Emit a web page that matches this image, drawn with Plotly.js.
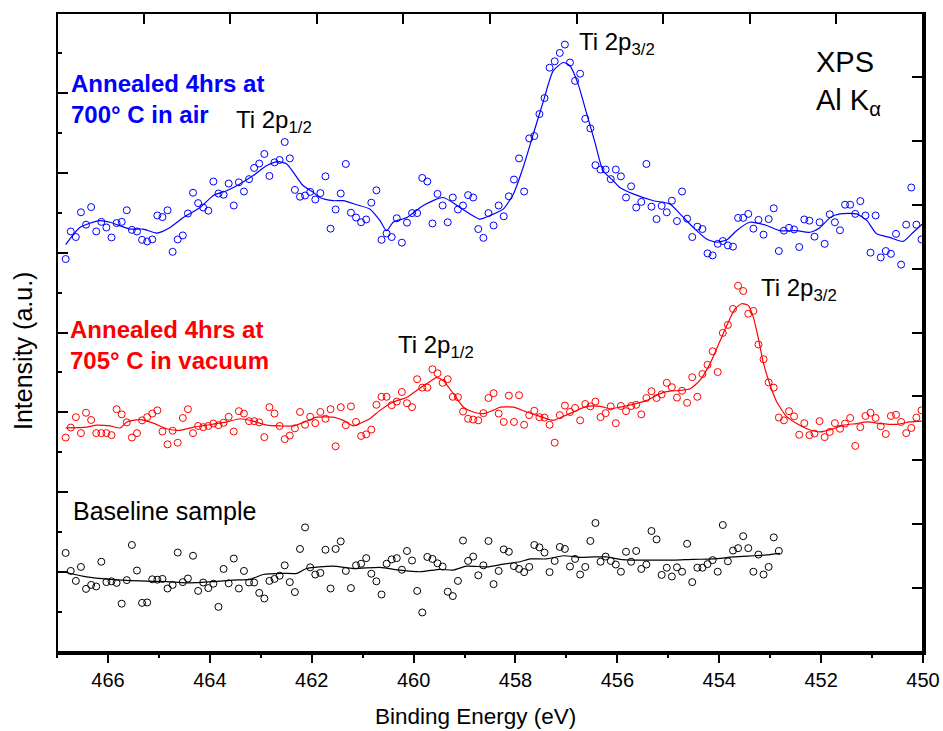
<!DOCTYPE html>
<html>
<head>
<meta charset="utf-8">
<script src="https://cdn.plot.ly/plotly-3.0.1.min.js"></script>
<style>html,body{margin:0;padding:0;background:#fff;overflow:hidden}
#wrap{position:relative;width:943px;height:731px}
#chart{width:943px;height:731px}
#frame{position:absolute;left:56px;top:12px;width:866px;height:639px;border:2px solid #000;box-sizing:content-box;pointer-events:none}</style>
</head>
<body>
<div id="wrap"><div id="chart"></div><div id="frame"></div></div>
<script>
// Binding energy grid (eV) shared by the three spectra
const energy = [
466.83,466.73,466.63,466.53,466.43,466.33,466.23,466.13,466.03,465.93,
465.83,465.73,465.63,465.53,465.43,465.33,465.23,465.13,465.03,464.93,
464.83,464.73,464.63,464.53,464.43,464.33,464.23,464.13,464.03,463.93,
463.83,463.73,463.63,463.53,463.43,463.33,463.23,463.13,463.03,462.93,
462.83,462.73,462.63,462.53,462.43,462.33,462.23,462.13,462.03,461.93,
461.83,461.73,461.63,461.53,461.43,461.33,461.23,461.13,461.03,460.93,
460.83,460.73,460.63,460.53,460.43,460.33,460.23,460.13,460.03,459.93,
459.83,459.73,459.63,459.53,459.43,459.33,459.23,459.13,459.03,458.93,
458.83,458.73,458.63,458.53,458.43,458.33,458.23,458.13,458.03,457.93,
457.83,457.73,457.63,457.53,457.43,457.33,457.23,457.13,457.03,456.93,
456.83,456.73,456.63,456.53,456.43,456.33,456.23,456.13,456.03,455.93,
455.83,455.73,455.63,455.53,455.43,455.33,455.23,455.13,455.03,454.93,
454.83,454.73,454.63,454.53,454.43,454.33,454.23,454.13,454.03,453.93,
453.83,453.73,453.63,453.53,453.43,453.33,453.23,453.13,453.03,452.93,
452.83,452.73,452.63,452.53,452.43,452.33,452.23,452.13,452.03,451.93,
451.83,451.73,451.63,451.53,451.43,451.33,451.23,451.13,451.03,450.93,
450.83,450.73,450.63,450.53,450.43,450.33,450.23,450.13,450.03];

const airData = [
9.84,10.53,10.39,11.01,10.70,11.14,10.53,10.77,10.63,10.38,
10.74,10.77,11.06,10.57,10.53,10.32,10.28,10.33,10.93,10.89,
11.06,10.02,10.33,10.43,10.98,11.50,11.24,11.13,11.05,11.78,
11.48,11.45,11.73,11.18,11.76,11.53,11.84,12.12,12.23,12.47,
11.92,12.26,12.32,12.77,12.36,11.57,11.40,11.43,11.52,11.33,
11.49,11.91,10.60,11.08,11.48,12.22,11.00,10.88,10.76,10.83,
11.25,11.56,10.32,10.48,10.39,10.86,10.25,10.75,10.99,10.99,
11.87,11.78,10.73,11.47,11.18,10.76,11.38,11.08,11.18,11.44,
11.38,10.59,10.37,10.99,10.68,11.18,10.91,11.41,11.83,12.36,
11.53,12.86,12.92,13.47,13.87,14.63,14.79,15.00,15.21,14.76,
14.30,14.48,13.35,13.11,12.19,12.08,12.08,11.84,12.08,11.91,
11.38,11.66,11.13,11.27,12.22,11.15,10.84,11.17,11.01,11.30,
10.79,11.53,10.85,10.39,10.65,10.59,9.98,9.93,10.22,10.29,
10.18,10.15,10.87,10.87,10.97,10.60,10.82,10.45,10.84,11.11,
10.04,10.55,10.62,10.58,10.14,10.83,10.80,10.40,10.76,10.22,
10.96,10.76,10.56,11.20,11.20,10.97,11.29,10.93,10.00,10.93,
9.88,10.04,9.97,10.47,9.70,10.70,11.63,10.70,10.33];

const vacData = [
5.37,5.62,5.88,5.48,5.99,5.81,5.48,5.48,5.48,5.43,
6.08,5.95,5.75,5.37,5.48,5.80,5.88,5.97,6.05,5.52,
5.20,5.54,5.24,5.86,6.08,5.48,5.66,5.63,5.66,5.72,
5.68,5.74,5.89,5.52,6.03,5.97,5.78,5.78,5.75,5.38,
6.13,5.97,5.66,5.33,5.42,5.60,6.01,5.69,5.89,5.73,
6.01,5.84,6.08,5.15,6.13,5.68,6.15,5.76,5.41,5.45,
5.57,6.19,6.39,6.39,6.18,6.27,6.51,6.23,6.13,6.83,
6.62,6.62,7.08,6.98,6.74,6.83,6.39,6.38,6.02,5.84,
5.82,5.80,5.98,6.36,6.48,5.97,5.76,6.42,5.76,6.43,
5.69,5.93,6.04,5.88,5.87,5.69,5.24,5.93,6.17,6.01,
6.11,5.80,6.21,6.15,6.27,5.88,5.98,6.15,5.73,6.16,
6.03,6.16,6.19,5.95,6.36,6.53,6.36,6.45,6.74,6.63,
6.37,6.54,6.24,6.88,6.39,6.96,7.19,7.53,7.01,7.99,
8.19,8.59,9.17,9.04,8.47,8.54,7.70,7.33,6.75,6.62,
5.87,5.80,6.03,5.90,5.44,5.73,5.43,5.47,5.78,5.38,
5.51,5.73,5.59,5.72,5.86,5.16,5.63,5.91,5.99,5.86,
5.65,5.46,5.91,5.94,5.76,5.48,5.61,5.87,6.05];

const baseData = [
2.48,2.03,1.78,2.13,1.58,1.68,1.64,2.26,1.75,1.77,
1.73,1.21,1.80,2.68,2.04,1.23,1.24,1.82,1.81,1.83,
1.59,1.68,2.49,1.75,1.84,2.41,1.53,1.74,1.60,1.71,
1.13,2.08,1.72,2.34,1.59,2.03,1.74,1.74,1.48,1.34,
1.78,1.83,1.91,2.17,1.75,1.50,2.58,3.12,2.12,1.94,
1.98,2.56,1.59,2.58,2.77,2.03,1.60,2.17,2.21,2.35,
1.96,1.77,1.44,2.21,2.32,2.35,2.06,2.53,2.29,1.53,
0.99,2.38,2.33,2.22,2.14,1.51,1.40,1.78,2.79,2.28,
2.39,1.92,2.17,2.78,1.70,2.03,2.57,2.51,2.15,2.08,
2.00,2.13,2.68,2.62,2.49,2.00,2.28,2.63,2.58,2.14,
2.33,1.94,2.13,2.78,3.23,2.26,2.39,2.28,2.19,2.01,
2.51,2.26,2.53,2.08,2.19,3.03,2.82,1.93,2.11,1.89,
2.12,2.01,2.71,1.75,2.11,2.11,2.20,2.30,2.01,3.18,
2.27,2.54,2.60,2.90,2.60,2.01,2.44,1.94,2.13,2.87,2.53];

// Smoothed curves
const airFitE = [466.83,466.55,466.16,465.96,465.57,465.31,465.04,464.78,464.52,464.19,463.93,463.67,463.41,463.15,462.88,462.66,462.49,462.36,462.17,461.97,461.84,461.58,461.38,461.12,460.86,460.66,460.53,460.40,460.13,459.81,459.42,459.09,458.70,458.50,458.24,458.04,457.85,457.65,457.45,457.26,457.06,456.93,456.77,456.60,456.44,456.28,456.08,455.95,455.69,455.29,454.97,454.77,454.51,454.25,454.05,453.85,453.66,453.40,453.07,452.81,452.48,452.22,452.02,451.82,451.63,451.30,451.10,450.91,450.65,450.39,450.19,450.00];
const airFitI = [10.20,10.63,10.80,10.76,10.59,10.59,10.49,10.63,10.88,11.13,11.43,11.55,11.72,11.93,12.18,12.28,12.22,12.01,11.68,11.51,11.38,11.30,11.30,11.20,11.09,10.80,10.55,10.76,10.88,11.18,11.38,11.13,10.84,10.93,11.09,11.47,12.13,12.97,13.80,14.55,14.76,14.68,14.22,13.47,12.76,12.05,11.80,11.63,11.47,11.30,11.22,10.97,10.63,10.34,10.26,10.32,10.55,10.76,10.68,10.55,10.55,10.51,10.63,10.88,10.97,10.97,10.80,10.47,10.38,10.28,10.51,10.73];

const vacFitE = [466.83,466.42,466.22,465.96,465.76,465.63,465.37,465.11,464.85,464.59,464.32,464.06,463.67,463.41,463.15,462.88,462.62,462.36,462.10,461.90,461.58,461.38,461.18,460.99,460.86,460.66,460.40,460.13,459.94,459.74,459.55,459.42,459.22,459.02,458.83,458.63,458.44,458.30,458.04,457.78,457.52,457.26,457.06,456.86,456.60,456.34,456.14,455.95,455.69,455.42,455.16,454.97,454.77,454.57,454.38,454.18,453.98,453.85,453.69,453.56,453.43,453.33,453.23,453.13,453.00,452.87,452.68,452.48,452.28,452.02,451.76,451.56,451.30,451.10,450.84,450.52,450.26,450.02];
const vacFitI = [5.61,5.63,5.68,5.66,5.61,5.76,5.82,5.73,5.59,5.55,5.63,5.68,5.76,5.84,5.78,5.68,5.66,5.66,5.78,5.88,5.88,5.80,5.66,5.76,5.84,6.05,6.26,6.38,6.55,6.72,6.87,6.80,6.47,6.13,6.01,5.97,6.05,6.13,6.13,6.01,5.90,5.80,5.90,6.01,6.15,6.15,6.09,6.13,6.20,6.30,6.47,6.53,6.55,6.59,6.80,7.22,7.80,8.18,8.59,8.72,8.68,8.38,7.84,7.22,6.68,6.26,5.90,5.72,5.59,5.51,5.59,5.68,5.72,5.76,5.72,5.70,5.76,5.78];

const baseFitE = [466.81,466.42,465.96,465.37,464.85,464.45,463.93,463.54,463.21,462.95,462.56,462.29,462.10,461.58,461.18,460.66,460.27,459.87,459.48,459.22,458.96,458.56,458.24,457.91,457.71,457.39,457.06,456.73,456.47,456.21,455.95,455.62,455.29,454.90,454.51,454.12,453.72,453.33,453.07,452.81];
const baseFitI = [1.99,1.88,1.82,1.78,1.76,1.73,1.76,1.80,1.82,1.94,1.97,1.97,2.09,2.15,2.09,2.12,2.05,2.01,2.07,2.05,2.15,2.13,2.20,2.26,2.33,2.33,2.41,2.37,2.38,2.38,2.32,2.30,2.30,2.30,2.32,2.33,2.38,2.41,2.43,2.47];

const FONT = "Liberation Sans, Arial, sans-serif";

function pts(x, y, color) {
  return {x: x, y: y, type: 'scatter', mode: 'markers', hoverinfo: 'skip',
    marker: {symbol: 'circle-open', size: 7, color: color, line: {width: 1, color: color}}};
}
function fit(x, y, color) {
  return {x: x, y: y, type: 'scatter', mode: 'lines', hoverinfo: 'skip',
    line: {color: color, width: 1.2, shape: 'spline', smoothing: 0.6}};
}

const traces = [
  pts(energy, airData, '#0000ff'), fit(airFitE, airFitI, '#0000ff'),
  pts(energy, vacData, '#ff0000'), fit(vacFitE, vacFitI, '#ff0000'),
  pts(energy.slice(0, baseData.length), baseData, '#000000'), fit(baseFitE, baseFitI, '#000000'),
  // empty trace so the top / right tick axes are created
  {x: [], y: [], xaxis: 'x2', yaxis: 'y2', type: 'scatter', mode: 'markers', hoverinfo: 'skip'}
];

function ann(text, x, y, size, color, bold) {
  return {text: bold ? '<b>' + text + '</b>' : text, x: x, y: y, xref: 'paper', yref: 'paper',
    xanchor: 'left', yanchor: 'middle', showarrow: false, align: 'left',
    font: {family: FONT, size: size, color: color}};
}

const tickStyle = {tickwidth: 2, tickcolor: '#000', showline: true, linewidth: 2, linecolor: '#000',
  showgrid: false, zeroline: false};

const layout = {
  width: 943, height: 731,
  margin: {l: 57, r: 20, t: 13, b: 79},
  showlegend: false,
  paper_bgcolor: 'rgba(0,0,0,0)', plot_bgcolor: 'rgba(0,0,0,0)',
  xaxis: Object.assign({
    anchor: 'free', position: 0,
    range: [467, 450], autorange: false, tickmode: 'linear', tick0: 450, dtick: 2,
    ticks: 'outside', ticklen: 10,
    minor: {dtick: 1, tick0: 450, ticks: 'outside', ticklen: 5, tickwidth: 2, tickcolor: '#000'},
    tickfont: {family: FONT, size: 20, color: '#000'}
  }, tickStyle),
  xaxis2: Object.assign({
    overlaying: 'x', side: 'top', anchor: 'free', position: 1, range: [0, 10], autorange: false,
    tickmode: 'linear', tick0: 0, dtick: 1, ticks: 'inside', ticklen: 10, showticklabels: false
  }, tickStyle),
  yaxis: Object.assign({
    anchor: 'free', position: 0,
    range: [0, 16], autorange: false, tickmode: 'linear', tick0: 0, dtick: 2,
    ticks: 'inside', ticklen: 10,
    minor: {dtick: 1, tick0: 0, ticks: 'inside', ticklen: 4, tickwidth: 2, tickcolor: '#000'},
    showticklabels: false
  }, tickStyle),
  yaxis2: Object.assign({
    overlaying: 'y', side: 'right', anchor: 'free', position: 1, range: [0, 10], autorange: false,
    tickmode: 'linear', tick0: 0, dtick: 1, ticks: 'inside', ticklen: 10, showticklabels: false
  }, tickStyle),
  shapes: [{type: 'rect', xref: 'paper', yref: 'paper', x0: 0, x1: 1, y0: 0, y1: 1,
    line: {color: '#000', width: 2}, layer: 'above'}],
  annotations: [
    {text: 'Binding Energy (eV)', x: 0.4838, y: -0.1017, xref: 'paper', yref: 'paper',
     xanchor: 'center', yanchor: 'middle', showarrow: false,
     font: {family: FONT, size: 22.5, color: '#000'}},
    {text: 'Intensity (a.u.)', x: -0.0393, y: 0.471, xref: 'paper', yref: 'paper', textangle: -90,
     xanchor: 'center', yanchor: 'middle', showarrow: false,
     font: {family: FONT, size: 25, color: '#000'}},
    ann('Annealed 4hrs at<br>700° C in air', 0.0135, 0.866, 24, '#0000ff', true),
    ann('Annealed 4hrs at<br>705° C in vacuum', 0.0125, 0.4804, 24, '#ff0000', true),
    ann('Ti 2p<sub>1/2</sub>', 0.2044, 0.830, 24, '#000', false),
    ann('Ti 2p<sub>3/2</sub>', 0.6005, 0.952, 24, '#000', false),
    ann('Ti 2p<sub>1/2</sub>', 0.3915, 0.478, 24, '#000', false),
    ann('Ti 2p<sub>3/2</sub>', 0.8105, 0.568, 24, '#000', false),
    ann('XPS<br>Al K<sub>α</sub>', 0.8745, 0.8905, 29, '#000', false),
    ann('Baseline sample', 0.0165, 0.2207, 25, '#000', false)
  ]
};

Plotly.newPlot('chart', traces, layout, {staticPlot: true, displayModeBar: false});
</script>
</body>
</html>
